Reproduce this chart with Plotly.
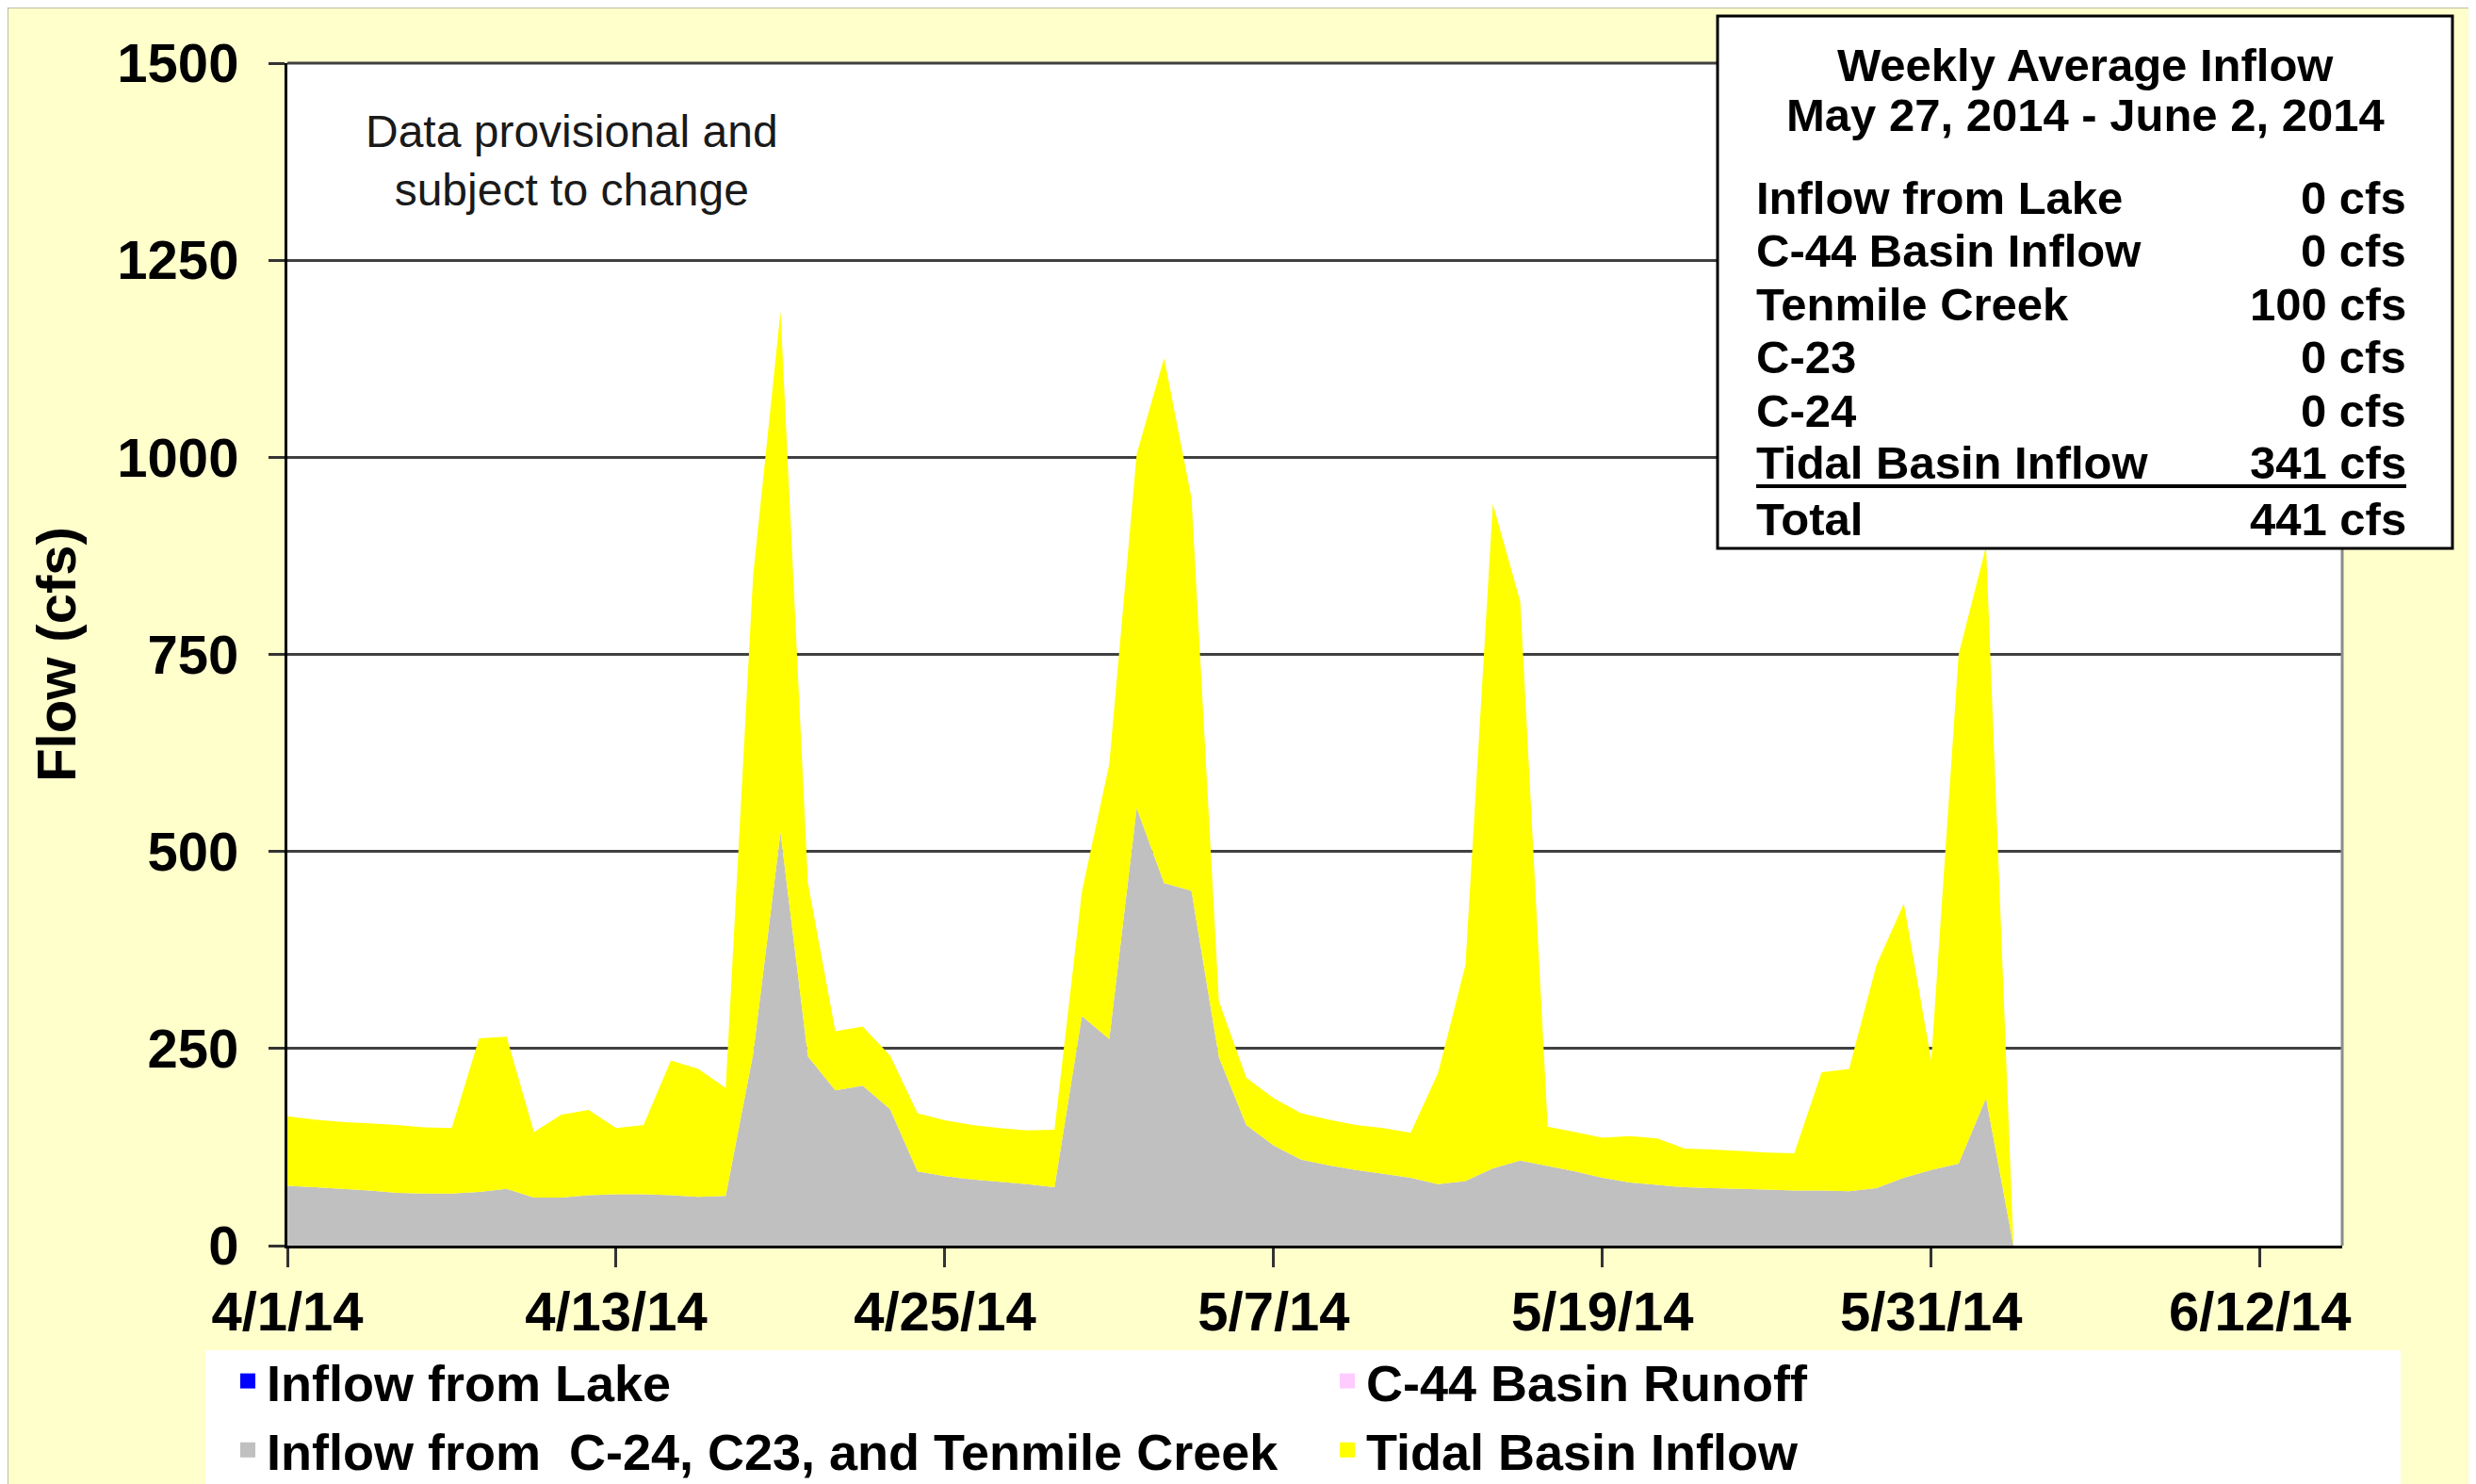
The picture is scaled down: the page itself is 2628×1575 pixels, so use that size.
import plotly.graph_objects as go
import pandas as pd

# ---------------- data ----------------
dates = pd.date_range("2014-04-01", "2014-06-03", freq="D")

lake_inflow = [0] * 64
c44_runoff = [0] * 64
c24_c23_tenmile = [76, 74, 72, 70, 67, 66, 66, 68, 72, 61, 61, 64, 65, 65, 64, 62, 63, 243, 524, 240,
                   197, 203, 173, 94, 88, 84, 81, 78, 74, 291, 262, 555, 460, 450, 239, 153, 127, 109, 102, 96,
                   91, 86, 78, 82, 98, 108, 101, 94, 86, 80, 77, 74, 73, 72, 71, 70, 70, 69, 73, 86,
                   96, 104, 187, 0]
tidal_basin = [88, 86, 85, 85, 86, 84, 83, 195, 193, 83, 105, 108, 84, 88, 171, 162, 137, 607, 661, 220,
               75, 75, 68, 74, 71, 69, 68, 68, 73, 158, 349, 449, 666, 498, 71, 60, 60, 59, 58, 57,
               58, 57, 141, 274, 843, 709, 50, 50, 51, 59, 59, 49, 49, 48, 47, 47, 150, 155, 283, 348,
               139, 646, 700, 0]

series_names = ["Inflow from Lake", "C-44 Basin Runoff",
                "Inflow from  C-24, C23, and Tenmile Creek", "Tidal Basin Inflow"]
series_colors = ["#0000FF", "#FFCCFF", "#C0C0C0", "#FFFF00"]

x_tick_vals = ["2014-04-01", "2014-04-13", "2014-04-25", "2014-05-07",
               "2014-05-19", "2014-05-31", "2014-06-12"]
x_tick_text = ["4/1/14", "4/13/14", "4/25/14", "5/7/14", "5/19/14", "5/31/14", "6/12/14"]
y_tick_vals = [0, 250, 500, 750, 1000, 1250, 1500]

box_title = ["Weekly Average Inflow", "May 27, 2014 - June 2, 2014"]
box_labels = ["Inflow from Lake", "C-44 Basin Inflow", "Tenmile Creek", "C-23", "C-24",
              "Tidal Basin Inflow", "Total"]
box_values = ["0 cfs", "0 cfs", "100 cfs", "0 cfs", "0 cfs", "341 cfs", "441 cfs"]
note_text = "Data provisional and<br>subject to change"

# ---------------- layout helpers ----------------
W, H = 2628, 1575
OFF = 8  # page body margin offset
ML, MT = 305 - OFF, 67 - OFF
MR = W - (2486 - OFF)
MB = H - (1322 - OFF)
PW, PH = W - ML - MR, H - MT - MB


def px(X):
    return (X - OFF - ML) / PW


def py(Y):
    return (H - MB - (Y - OFF)) / PH


FONT = "Liberation Sans, Arial, sans-serif"

fig = go.Figure()

values = [lake_inflow, c44_runoff, c24_c23_tenmile, tidal_basin]
for name, vals, col in zip(series_names, values, series_colors):
    fig.add_trace(go.Scatter(x=dates, y=vals, name=name, stackgroup="one", mode="none",
                             fillcolor=col, showlegend=False, hoverinfo="x+y+name"))

# legend entries (square swatches)
for name, col in zip(series_names, series_colors):
    fig.add_trace(go.Scatter(x=[None], y=[None], name=name, mode="markers",
                             marker=dict(symbol="square", size=16, color=col), showlegend=True))

shapes = [
    # outer chart border
    dict(type="rect", xref="paper", yref="paper", x0=px(7), x1=px(2700), y0=py(1700), y1=py(7),
         line=dict(color="#7f7f7f", width=3), fillcolor="rgba(0,0,0,0)", layer="below"),
    # legend white box
    dict(type="rect", xref="paper", yref="paper", x0=px(218), x1=px(2548), y0=py(1600), y1=py(1433),
         line=dict(width=0), fillcolor="white", layer="below"),
    # top and right border of plot area
    dict(type="line", xref="paper", yref="paper", x0=0, x1=1, y0=1, y1=1,
         line=dict(color="#404040", width=3)),
    dict(type="line", xref="paper", yref="paper", x0=1, x1=1, y0=0, y1=1,
         line=dict(color="#8c8c8c", width=3)),
    # info box
    dict(type="rect", xref="paper", yref="paper", x0=px(1823), x1=px(2603), y0=py(582), y1=py(17),
         line=dict(color="black", width=3), fillcolor="white", layer="above"),
    dict(type="line", xref="paper", yref="paper", x0=px(1864), x1=px(2554), y0=py(516), y1=py(516),
         line=dict(color="black", width=4), layer="above"),
]

annotations = [
    dict(text=note_text, xref="paper", yref="paper", x=px(607), y=py(170), showarrow=False,
         font=dict(family=FONT, size=48, color="#1a1a1a"), align="center", xanchor="center",
         yanchor="middle"),
]
for txt, Y in zip(box_title, [69, 122]):
    annotations.append(dict(text=txt, xref="paper", yref="paper", x=px(2213), y=py(Y), showarrow=False,
                            font=dict(family=FONT, size=49, color="black", weight=700),
                            xanchor="center", yanchor="middle"))
row_y = [210, 266, 323, 379, 436, 491, 551]
for lab, val, Y in zip(box_labels, box_values, row_y):
    annotations.append(dict(text=lab, xref="paper", yref="paper", x=px(1862), y=py(Y), showarrow=False,
                            font=dict(family=FONT, size=49, color="black", weight=700),
                            xanchor="left", yanchor="middle"))
    annotations.append(dict(text=val, xref="paper", yref="paper", x=px(2556), y=py(Y), showarrow=False,
                            font=dict(family=FONT, size=49, color="black", weight=700),
                            xanchor="right", yanchor="middle"))

fig.update_layout(
    width=W, height=H,
    margin=dict(l=ML, r=MR, t=MT, b=MB, autoexpand=False),
    paper_bgcolor="#FFFFCC", plot_bgcolor="white",
    font=dict(family=FONT, color="black"),
    shapes=shapes, annotations=annotations,
    showlegend=True,
    legend=dict(orientation="h", x=px(243), xanchor="left", y=py(1424), yanchor="top",
                entrywidth=1122, entrywidthmode="pixels", bgcolor="rgba(0,0,0,0)",
                font=dict(family=FONT, size=54, color="black", weight=700), traceorder="normal"),
    xaxis=dict(type="date", range=["2014-04-01", "2014-06-15"], tickvals=x_tick_vals, ticktext=x_tick_text,
               ticks="outside", ticklen=20, tickwidth=3, tickcolor="#333333", showline=True,
               linecolor="black", linewidth=3, showgrid=False, zeroline=False,
               tickfont=dict(family=FONT, size=58, color="black", weight=700), ticklabelstandoff=-3),
    yaxis=dict(range=[0, 1500], tickvals=y_tick_vals, ticks="outside", ticklen=17, tickwidth=3,
               tickcolor="#333333", showline=True, linecolor="black", linewidth=3, showgrid=True,
               gridcolor="#404040", gridwidth=2.5, zeroline=False,
               tickfont=dict(family=FONT, size=58, color="black", weight=700), ticklabelstandoff=20,
               title=dict(text="Flow (cfs)", font=dict(family=FONT, size=58, color="black", weight=700),
                          standoff=26)),
)

fig.write_html("out.html")
